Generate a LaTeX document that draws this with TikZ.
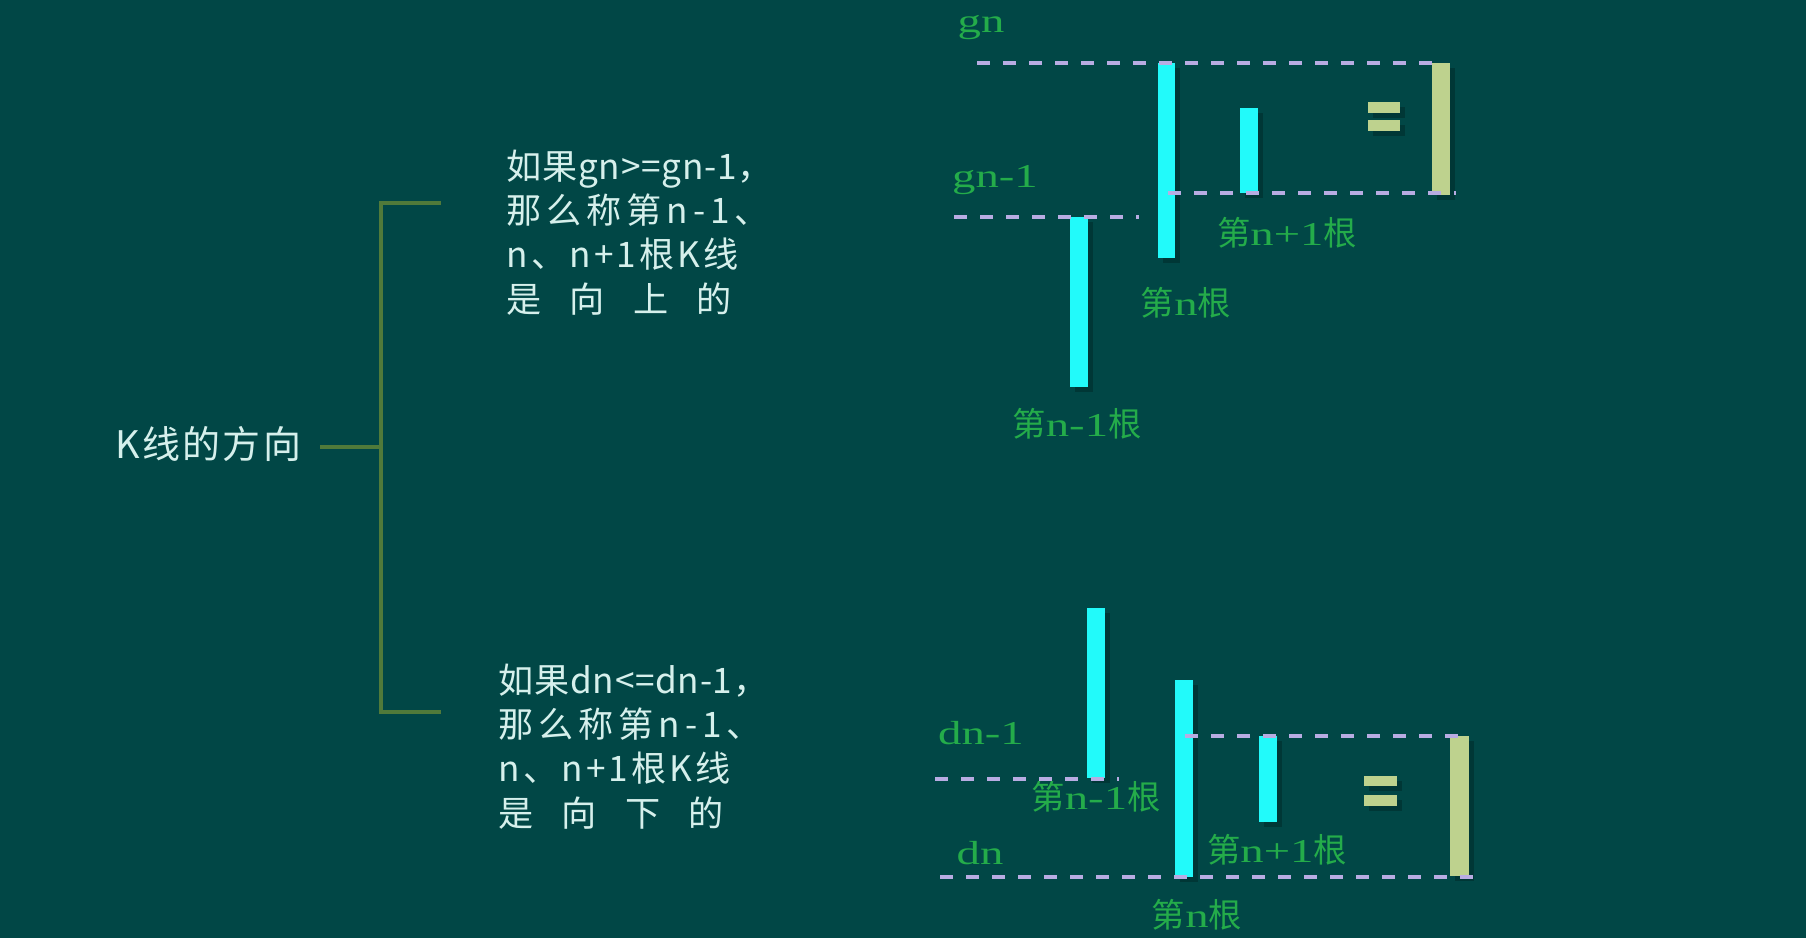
\documentclass[tikz,border=0pt]{standalone}
\usepackage{fontspec}
\setmainfont{Noto Sans CJK SC}
\newfontfamily\lat[FakeStretch=1.4]{Liberation Serif}
\usetikzlibrary{positioning,shadows}

\definecolor{board}{RGB}{1,71,70}
\definecolor{kcyan}{RGB}{34,250,250}
\definecolor{ktan}{RGB}{190,210,142}
\definecolor{klevel}{RGB}{184,172,226}
\definecolor{kgreen}{RGB}{36,172,74}
\definecolor{kwhite}{RGB}{214,240,236}
\definecolor{kolive}{RGB}{80,122,58}

\newcommand\kgen[1]{第{\lat #1}根}
\newcommand\spread[2]{{\addfontfeature{LetterSpace=#1}#2}}
\newcommand\gap{\hspace{0.8em}}

\tikzset{
  note/.style={text=kwhite, align=left, inner sep=0, anchor=north west,
    font=\fontsize{10}{12.6}\selectfont},
  klabel/.style={text=kgreen, inner sep=0, font=\fontsize{9.5}{11}\selectfont},
  kshade/.style={drop shadow={shadow xshift=0.5mm, shadow yshift=-0.5mm, opacity=0.22, fill=black}},
  upbar/.style={fill=kcyan, kshade},
  tanbar/.style={fill=ktan, kshade},
  level/.style={draw=klevel, line width=0.4mm, dash pattern=on 1.3mm off 1.3mm},
  brace/.style={draw=kolive, line width=0.35mm, line join=miter},
}

\begin{document}
\begin{tikzpicture}[x=0.1mm, y=-0.1mm]
  \fill[board] (0,0) rectangle (1806,938);
  \useasboundingbox (0,0) rectangle (1806,938);

  % left side: title and bracket
  \node[text=kwhite, inner sep=0, anchor=west, font=\fontsize{10.8}{13}\selectfont] (dir) at (115,444) {\spread{6}{K线的方向}};
  \node[note] (up) at (506,149) {\spread{2}{如果gn>=gn-1，}\\\spread{14}{那么称第n-1、}\\\spread{9}{n、n+1根K线}\\是\gap 向\gap 上\gap 的};
  \node[note] (down) at (498,663) {\spread{2}{如果dn<=dn-1，}\\\spread{14}{那么称第n-1、}\\\spread{9}{n、n+1根K线}\\是\gap 向\gap 下\gap 的};
  \coordinate (bt) at (441,203);
  \coordinate (bm) at (381,447);
  \coordinate (bb) at (441,712);
  \draw[brace] (bt) -| (bm) |- (bb);
  \draw[brace] ([xshift=1.8mm]dir.east |- bm) -- (bm);

  % upper chart: highs
  \fill[upbar] (1070,217) rectangle (1088,387);
  \fill[upbar] (1158,63) rectangle (1175,258);
  \fill[upbar] (1240,108) rectangle (1258,193);
  \fill[tanbar] (1432,63) rectangle (1450,195);
  \fill[tanbar] (1368,102) rectangle (1400,113);
  \fill[tanbar] (1368,120) rectangle (1400,131);
  \draw[level] (977,63) -- (1436,63);
  \draw[level] (1168,193) -- (1456,193);
  \draw[level] (954,217) -- (1139,217);
  \node[klabel] (gn) at (981,28) {\lat gn};
  \node[klabel] (gn1) at (995,180) {\lat gn-1};
  \node[klabel] (up3) at (1287,233) {\kgen{n+1}};
  \node[klabel] (up2) at (1186,303) {\kgen{n}};
  \node[klabel] (up1) at (1077,424) {\kgen{n-1}};

  % lower chart: lows
  \fill[upbar] (1087,608) rectangle (1105,778);
  \fill[upbar] (1175,680) rectangle (1193,877);
  \fill[upbar] (1259,736) rectangle (1277,822);
  \fill[tanbar] (1450,736) rectangle (1469,876);
  \fill[tanbar] (1364,776) rectangle (1397,786);
  \fill[tanbar] (1364,795) rectangle (1397,806);
  \draw[level] (935,779) -- (1119,779);
  \draw[level] (1185,736) -- (1470,736);
  \draw[level] (940,877) -- (1473,877);
  \node[klabel] (dn1) at (981,733) {\lat dn-1};
  \node[klabel] (dn) at (980,853) {\lat dn};
  \node[klabel] (dw1) at (1096,797) {\kgen{n-1}};
  \node[klabel] (dw3) at (1277,850) {\kgen{n+1}};
  \node[klabel] (dw2) at (1197,915) {\kgen{n}};
\end{tikzpicture}
\end{document}
